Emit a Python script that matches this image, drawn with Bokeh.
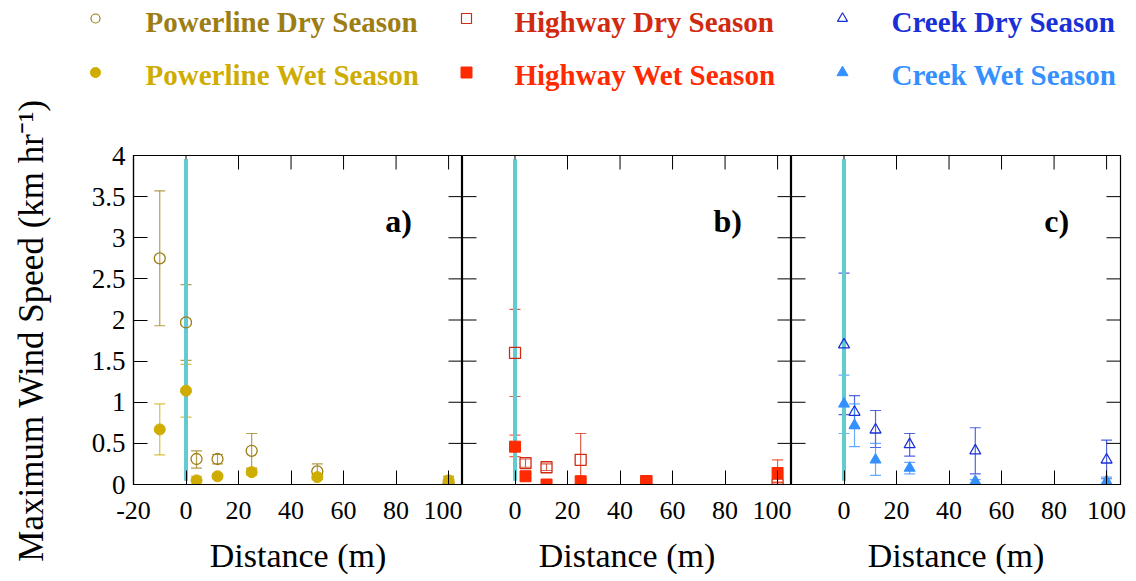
import math
from bokeh.plotting import figure
from bokeh.models import Range1d, LinearAxis, FixedTicker, NumeralTickFormatter, Whisker, TeeHead, ColumnDataSource, Label
from bokeh.layouts import column, row
from bokeh.embed import file_html
from bokeh.resources import INLINE
from bokeh.core.properties import value

# ---------------- data ----------------
pl_distance = [-10, 0, 4, 12, 25, 50, 100]
pl_dry = [2.75, 1.97, 0.31, 0.31, 0.41, 0.16, 0.01]
pl_dry_hi = [3.57, 2.43, 0.41, 0.365, 0.62, 0.25, 0.10]
pl_dry_lo = [1.93, 1.51, 0.20, 0.25, 0.20, 0.07, 0.0]
pl_wet = [0.67, 1.14, 0.05, 0.10, 0.15, 0.09, 0.05]
pl_wet_hi = [0.98, 1.46, 0.10, 0.13, 0.19, 0.12, 0.10]
pl_wet_lo = [0.36, 0.82, 0.0, 0.07, 0.11, 0.06, 0.0]

hw_distance = [0, 4, 12, 25, 50, 100]
hw_dry = [1.60, 0.26, 0.21, 0.30, 0.04, 0.00]
hw_dry_hi = [2.13, 0.31, 0.25, 0.62, 0.07, 0.02]
hw_dry_lo = [1.07, 0.21, 0.17, 0.0, 0.01, 0.0]
hw_wet = [0.46, 0.10, 0.0, 0.04, 0.04, 0.14]
hw_wet_hi = [0.60, 0.13, 0.01, 0.06, 0.06, 0.30]
hw_wet_lo = [0.34, 0.07, 0.0, 0.02, 0.02, 0.03]

ck_distance = [0, 4, 12, 25, 50, 100]
ck_dry = [1.70, 0.88, 0.665, 0.486, 0.41, 0.30]
ck_dry_hi = [2.57, 1.08, 0.90, 0.62, 0.69, 0.54]
ck_dry_lo = [0.85, 0.68, 0.45, 0.345, 0.13, 0.07]
ck_wet = [0.98, 0.72, 0.30, 0.20, 0.04, 0.04]
ck_wet_hi = [1.33, 0.98, 0.50, 0.27, 0.06, 0.09]
ck_wet_lo = [0.62, 0.46, 0.11, 0.13, 0.0, 0.0]

boundary_x = [0, 0]
boundary_y = [0.05, 3.95]

x_ticks_a = [-20, 0, 20, 40, 60, 80, 100]
x_ticks_bc = [0, 20, 40, 60, 80, 100]
y_ticks = [0, 0.5, 1, 1.5, 2, 2.5, 3, 3.5, 4]

series_names = ["Powerline Dry Season", "Powerline Wet Season",
                "Highway Dry Season", "Highway Wet Season",
                "Creek Dry Season", "Creek Wet Season"]
series_colors = ["#9C7E14", "#CFAC00", "#D02A10", "#FF2A00", "#1A30D6", "#3590FF"]
series_markers = ["circle", "circle", "square", "square", "triangle", "triangle"]
series_filled = [False, True, False, True, False, True]

y_title = "Maximum Wind Speed (km hr\u207b\u00b9)"
x_title = "Distance (m)"

FONT = "Liberation Serif"

# ---------------- layout constants ----------------
X0, X1 = -20, 105.3
Y0, Y1 = 0, 4
FRAME = 329
TICK = 14
LABEL_W = 56          # width of the strip holding the y-axis title
LEG_H = 120           # height of the legend strip
TOP_B = 35
BOT_B = 0


def make_panel(ticks_x, first, right_border):
    p = figure(frame_width=FRAME, frame_height=FRAME,
               x_range=Range1d(X0, X1), y_range=Range1d(Y0, Y1),
               output_backend="svg", toolbar_location=None,
               x_axis_location=None, y_axis_location=None,
               min_border_left=(133 - LABEL_W) if first else 0,
               min_border_right=right_border,
               min_border_top=TOP_B, min_border_bottom=BOT_B,
               background_fill_color="white", border_fill_color="white")
    p.grid.visible = False
    p.outline_line_color = "black"
    p.outline_line_width = 1.2

    def style(ax):
        ax.axis_line_color = "black"
        ax.axis_line_width = 1.2
        ax.major_tick_in = TICK
        ax.major_tick_out = 0
        ax.major_tick_line_color = "black"
        ax.major_tick_line_width = 1
        ax.minor_tick_line_color = None
        ax.major_label_text_font = FONT
        ax.major_label_text_color = "black"

    bottom = LinearAxis(ticker=FixedTicker(ticks=ticks_x))
    style(bottom)
    bottom.major_label_text_font_size = "26px"
    bottom.major_label_standoff = 17
    bottom.major_label_overrides = {-20: "-20"}
    bottom.axis_label = x_title
    bottom.axis_label_text_font = FONT
    bottom.axis_label_text_font_size = "34px"
    bottom.axis_label_text_font_style = "normal"
    bottom.axis_label_text_color = "black"
    bottom.axis_label_standoff = 15
    p.add_layout(bottom, "below")

    # mirrored inward ticks (top, right, and left for panels b/c)
    tx = TICK * (X1 - X0) / FRAME
    ty = TICK * (Y1 - Y0) / FRAME
    p.segment(x0=x_ticks_a, y0=[Y1] * len(x_ticks_a), x1=x_ticks_a,
              y1=[Y1 - ty] * len(x_ticks_a), line_color="black", line_width=1)
    p.segment(x0=[X1] * len(y_ticks), y0=y_ticks, x1=[X1 - tx] * len(y_ticks),
              y1=y_ticks, line_color="black", line_width=1)

    if first:
        left = LinearAxis(ticker=FixedTicker(ticks=y_ticks),
                          formatter=NumeralTickFormatter(format="0.[0]"))
        style(left)
        left.major_label_text_font_size = "27px"
        left.major_label_standoff = 8
        p.add_layout(left, "left")
    else:
        p.segment(x0=[X0] * len(y_ticks), y0=y_ticks, x1=[X0 + tx] * len(y_ticks),
                  y1=y_ticks, line_color="black", line_width=1)
    return p


def add_data(p, tag, datasets):
    # boundary line at distance 0
    p.line(boundary_x, boundary_y, line_color="#9ADDE0", line_width=4)
    p.line(boundary_x, boundary_y, line_color="#2DB8C0", line_width=4, line_dash="1 1")

    for (xs, ys, hi, lo, idx) in datasets:
        color = series_colors[idx]
        src = ColumnDataSource(dict(x=xs, y=ys, hi=hi, lo=lo))
        w = Whisker(source=src, base="x", upper="hi", lower="lo", dimension="height",
                    line_color=color, line_alpha=0.75, line_width=1.2,
                    upper_head=TeeHead(size=11, line_color=color, line_alpha=0.75, line_width=1.2),
                    lower_head=TeeHead(size=11, line_color=color, line_alpha=0.75, line_width=1.2))
        p.add_layout(w)
    for (xs, ys, hi, lo, idx) in datasets:
        color = series_colors[idx]
        src = ColumnDataSource(dict(x=xs, y=ys))
        if series_filled[idx]:
            p.scatter("x", "y", source=src, marker=series_markers[idx], size=11,
                      fill_color=color, line_color=color)
        else:
            p.scatter("x", "y", source=src, marker=series_markers[idx], size=11,
                      fill_color=None, line_color=color, line_width=1.3)

    p.add_layout(Label(x=81, y=3.2, text=tag, text_font=FONT, text_font_style="bold",
                       text_font_size="32px", text_align="center", text_baseline="middle",
                       text_color="black"))


fa = make_panel(x_ticks_a, True, 0)
add_data(fa, "a)", [(pl_distance, pl_dry, pl_dry_hi, pl_dry_lo, 0),
                    (pl_distance, pl_wet, pl_wet_hi, pl_wet_lo, 1)])
fb = make_panel(x_ticks_bc, False, 0)
add_data(fb, "b)", [(hw_distance, hw_dry, hw_dry_hi, hw_dry_lo, 2),
                    (hw_distance, hw_wet, hw_wet_hi, hw_wet_lo, 3)])
fc = make_panel(x_ticks_bc, False, 14)
add_data(fc, "c)", [(ck_distance, ck_dry, ck_dry_hi, ck_dry_lo, 4),
                    (ck_distance, ck_wet, ck_wet_hi, ck_wet_lo, 5)])

TOTAL_H = 580

# ---------------- y-axis title strip ----------------
yl = figure(width=LABEL_W, height=TOTAL_H, x_range=Range1d(0, LABEL_W), y_range=Range1d(TOTAL_H, 0),
            output_backend="svg", toolbar_location=None, min_border=0,
            x_axis_location=None, y_axis_location=None)
yl.grid.visible = False
yl.outline_line_color = None
yl.text([31], [330], text=[y_title], angle=math.pi / 2, text_font=value(FONT),
        text_font_size="35px", text_color="black", text_align="center", text_baseline="middle")

# ---------------- legend strip above the panels ----------------
LW = 1136 - LABEL_W
lf = figure(width=LW, height=LEG_H, x_range=Range1d(0, LW), y_range=Range1d(LEG_H, 0),
            output_backend="svg", toolbar_location=None, min_border=0,
            x_axis_location=None, y_axis_location=None)
lf.grid.visible = False
lf.outline_line_color = None

col_marker_x = [95 - LABEL_W, 466 - LABEL_W, 842 - LABEL_W]
col_text_x = [145 - LABEL_W, 514 - LABEL_W, 891 - LABEL_W]
row_marker_y = [18, 72]
row_text_y = [21, 74]
legend_sizes = [9, 10, 10, 11, 10, 11]

for i, name in enumerate(series_names):
    c, r = i // 2, i % 2
    color = series_colors[i]
    if series_filled[i]:
        lf.scatter([col_marker_x[c]], [row_marker_y[r]], marker=series_markers[i],
                   size=legend_sizes[i], fill_color=color, line_color=color)
    else:
        lf.scatter([col_marker_x[c]], [row_marker_y[r]], marker=series_markers[i],
                   size=legend_sizes[i], fill_color=None, line_color=color, line_width=1.2)
    lf.text([col_text_x[c]], [row_text_y[r]], text=[name], text_font=value(FONT),
            text_font_style="bold", text_font_size="29px", text_color=color,
            text_align="left", text_baseline="alphabetic")

layout = row(yl, column(lf, row(fa, fb, fc)))
open("out.html", "w").write(file_html(layout, INLINE))
